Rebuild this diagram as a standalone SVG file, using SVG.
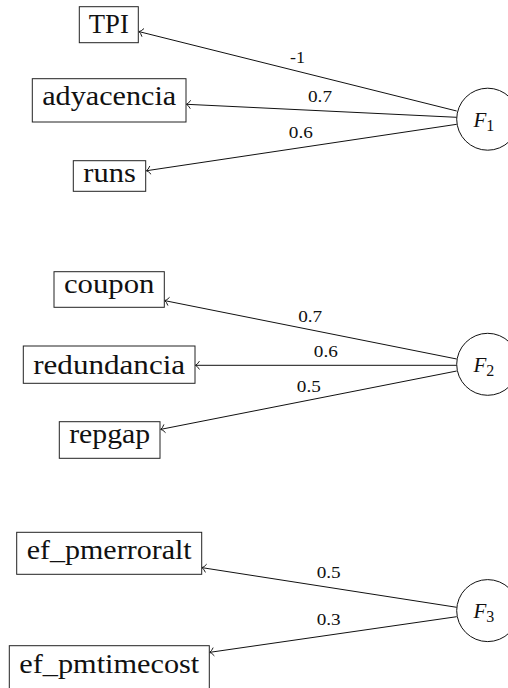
<svg xmlns="http://www.w3.org/2000/svg" width="508" height="688" viewBox="0 0 508 688">
  <style>
    .box { fill: #ffffff; stroke: #222222; stroke-width: 1; }
    .var { font-family: "Liberation Serif", "Times New Roman", serif; font-size: 27px; fill: #111111; text-anchor: middle; }
    .factor circle { fill: #ffffff; stroke: #111111; stroke-width: 1; }
    .flabel { font-family: "Liberation Serif", "Times New Roman", serif; font-size: 21px; font-style: italic; fill: #111111; }
    .fsub { font-style: normal; font-size: 16px; }
    .edge { fill: none; stroke: #111111; stroke-width: 1; marker-end: url(#tip); }
    .wt { font-family: "Liberation Serif", "Times New Roman", serif; font-size: 17px; fill: #111111; text-anchor: middle; }
  </style>
  <defs>
    <marker id="tip" markerUnits="userSpaceOnUse" orient="auto" refX="0" refY="0" markerWidth="12" markerHeight="12" viewBox="-6 -6 12 12" overflow="visible">
      <path d="M -3.8,-4.2 Q -1.6,-0.6 0.4,0 Q -1.6,0.6 -3.8,4.2" fill="none" stroke="#111111" stroke-width="0.9"/>
    </marker>
  </defs>

  <rect width="508" height="688" fill="#ffffff"/>

  <!-- loadings -->
  <g id="connectors">
    <line class="edge" x1="456.7" y1="111" x2="139.3" y2="31.7"/>
    <line class="edge" x1="456.7" y1="117.3" x2="186.7" y2="104.3"/>
    <line class="edge" x1="456.7" y1="124.3" x2="146.7" y2="170.7"/>

    <line class="edge" x1="456.7" y1="359" x2="165" y2="300.7"/>
    <line class="edge" x1="456.7" y1="365.3" x2="195.7" y2="365.3"/>
    <line class="edge" x1="456.7" y1="371" x2="161" y2="429.3"/>

    <line class="edge" x1="456.7" y1="607.3" x2="202.3" y2="567.7"/>
    <line class="edge" x1="456.7" y1="616.7" x2="210" y2="652.3"/>

    <text class="wt" x="297.5" y="63.3" textLength="15" lengthAdjust="spacingAndGlyphs">-1</text>
    <text class="wt" x="320" y="101.7" textLength="24" lengthAdjust="spacingAndGlyphs">0.7</text>
    <text class="wt" x="300.8" y="138.3" textLength="24" lengthAdjust="spacingAndGlyphs">0.6</text>

    <text class="wt" x="310.2" y="321.7" textLength="24" lengthAdjust="spacingAndGlyphs">0.7</text>
    <text class="wt" x="325.8" y="356.7" textLength="24" lengthAdjust="spacingAndGlyphs">0.6</text>
    <text class="wt" x="308.8" y="392.3" textLength="24" lengthAdjust="spacingAndGlyphs">0.5</text>

    <text class="wt" x="328.7" y="578.3" textLength="24" lengthAdjust="spacingAndGlyphs">0.5</text>
    <text class="wt" x="328.7" y="625" textLength="24" lengthAdjust="spacingAndGlyphs">0.3</text>
  </g>

  <!-- observed variables -->
  <g id="TPI">
    <rect class="box" x="79.3" y="6.7" width="59" height="36"/>
    <text class="var" x="108.8" y="33.3" textLength="40" lengthAdjust="spacingAndGlyphs">TPI</text>
  </g>
  <g id="adyacencia">
    <rect class="box" x="32.3" y="78.7" width="153.7" height="43.3"/>
    <text class="var" x="109.2" y="105.3" textLength="134" lengthAdjust="spacingAndGlyphs">adyacencia</text>
  </g>
  <g id="runs">
    <rect class="box" x="73.3" y="160.7" width="72.4" height="30.6"/>
    <text class="var" x="109.5" y="182" textLength="52.5" lengthAdjust="spacingAndGlyphs">runs</text>
  </g>
  <g id="coupon">
    <rect class="box" x="54" y="271.7" width="110.3" height="35.6"/>
    <text class="var" x="109.2" y="293" textLength="90.5" lengthAdjust="spacingAndGlyphs">coupon</text>
  </g>
  <g id="redundancia">
    <rect class="box" x="23.3" y="346" width="171.7" height="37.3"/>
    <text class="var" x="109.2" y="374.2" textLength="152" lengthAdjust="spacingAndGlyphs">redundancia</text>
  </g>
  <g id="repgap">
    <rect class="box" x="59.3" y="421.7" width="100.7" height="36.6"/>
    <text class="var" x="109.7" y="443" textLength="81" lengthAdjust="spacingAndGlyphs">repgap</text>
  </g>
  <g id="ef_pmerroralt">
    <rect class="box" x="16.7" y="532.3" width="185" height="42"/>
    <text class="var" x="109.2" y="559.3" textLength="165" lengthAdjust="spacingAndGlyphs">ef_pmerroralt</text>
  </g>
  <g id="ef_pmtimecost">
    <rect class="box" x="9.3" y="645.7" width="200" height="43"/>
    <text class="var" x="109.3" y="672.7" textLength="180" lengthAdjust="spacingAndGlyphs">ef_pmtimecost</text>
  </g>

  <!-- factors -->
  <g id="F1" class="factor">
    <circle cx="487.7" cy="119.2" r="31"/>
    <text class="flabel" x="473.5" y="126.7">F<tspan class="fsub" dy="4.3">1</tspan></text>
  </g>
  <g id="F2" class="factor">
    <circle cx="487.7" cy="364.3" r="31"/>
    <text class="flabel" x="473.5" y="371.8">F<tspan class="fsub" dy="4.3">2</tspan></text>
  </g>
  <g id="F3" class="factor">
    <circle cx="487.7" cy="610.6" r="31"/>
    <text class="flabel" x="473.5" y="618">F<tspan class="fsub" dy="4.3">3</tspan></text>
  </g>
</svg>
